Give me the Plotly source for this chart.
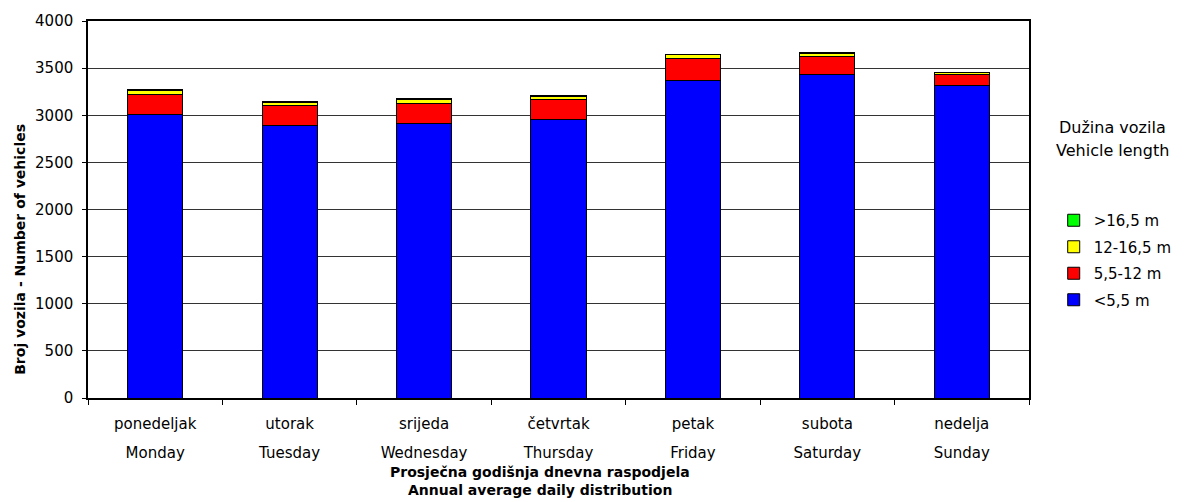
import plotly.graph_objects as go

days_local = ["ponedeljak", "utorak", "srijeda", "četvrtak", "petak", "subota", "nedelja"]
days_en = ["Monday", "Tuesday", "Wednesday", "Thursday", "Friday", "Saturday", "Sunday"]
under_5_5 = [3010, 2895, 2915, 2950, 3370, 3435, 3315]
from_5_5_to_12 = [215, 205, 205, 220, 235, 190, 120]
from_12_to_16_5 = [40, 38, 50, 32, 35, 32, 15]
over_16_5 = [5, 4, 5, 4, 5, 5, 4]

series = [
    ("<5,5 m", under_5_5, "#0000FF", 4),
    ("5,5-12 m", from_5_5_to_12, "#FF0000", 3),
    ("12-16,5 m", from_12_to_16_5, "#FFFF00", 2),
    (">16,5 m", over_16_5, "#00FF00", 1),
]

FONT = "DejaVu Sans"
# page body has an 8px margin: the figure is sized / offset to compensate
OFF = 8
W, H = 1189 - OFF, 502 - OFF
PL, PR, PT, PB = 88, 1040, 21, 398  # plot area in reference pixels

def px(xr):
    return (xr - PL) / (PR - PL)

def py(yr):
    return (PB - yr) / (PB - PT)

fig = go.Figure()
for name, vals, col, rank in series:
    fig.add_trace(go.Bar(
        x=days_local, y=vals, name=name, legendgroup=name, legendrank=rank,
        marker=dict(color=col, line=dict(color="black", width=1)),
    ))
# invisible helper trace carrying the English day names on a second category axis
fig.add_trace(go.Scatter(
    x=days_en, y=under_5_5, xaxis="x2", mode="markers",
    marker=dict(opacity=0), showlegend=False, hoverinfo="skip",
))

fig.update_layout(
    barmode="stack",
    bargap=0.59,
    width=W, height=H,
    margin=dict(l=PL - OFF, r=W - (PR - OFF), t=PT - OFF, b=H - (PB - OFF)),
    plot_bgcolor="white", paper_bgcolor="white",
    font=dict(family=FONT, size=15, color="black"),
    showlegend=True,
    legend=dict(
        x=px(1065), y=py(204), xanchor="left", yanchor="top",
        traceorder="grouped", tracegroupgap=4,
        font=dict(family=FONT, size=15),
    ),
    xaxis=dict(
        automargin=False,
        showline=True, linecolor="black", linewidth=1.5, mirror=True,
        ticks="outside", tickson="boundaries", ticklen=5, tickcolor="black",
        tickfont=dict(family=FONT, size=15), ticklabelstandoff=11,
    ),
    xaxis2=dict(
        automargin=False, overlaying="x", anchor="y", side="bottom",
        type="category", range=[-0.5, len(days_en) - 0.5],
        showline=False, ticks="", showgrid=False, zeroline=False,
        tickfont=dict(family=FONT, size=15), ticklabelstandoff=44,
    ),
    yaxis=dict(
        automargin=False,
        range=[0, 4000], dtick=500,
        showline=True, linecolor="black", linewidth=1.5, mirror=True,
        ticks="outside", ticklen=4, tickcolor="black",
        showgrid=True, gridcolor="#333333", gridwidth=1,
        tickfont=dict(family=FONT, size=15), ticklabelstandoff=6,
    ),
    annotations=[
        dict(text="Dužina vozila", xref="paper", yref="paper",
             x=px(1124), y=py(127), xanchor="center", yanchor="middle",
             showarrow=False, font=dict(family=FONT, size=16)),
        dict(text="Vehicle length", xref="paper", yref="paper",
             x=px(1124), y=py(150), xanchor="center", yanchor="middle",
             showarrow=False, font=dict(family=FONT, size=16)),
        dict(text="<b>Broj vozila - Number of vehicles</b>", xref="paper", yref="paper",
             x=px(19), y=py(249), xanchor="center", yanchor="middle",
             textangle=-90, showarrow=False, font=dict(family=FONT, size=14)),
        dict(text="<b>Prosječna godišnja dnevna raspodjela</b>", xref="paper", yref="paper",
             x=px(545), y=py(472), xanchor="center", yanchor="middle",
             showarrow=False, font=dict(family=FONT, size=14)),
        dict(text="<b>Annual average daily distribution</b>", xref="paper", yref="paper",
             x=px(545), y=py(490), xanchor="center", yanchor="middle",
             showarrow=False, font=dict(family=FONT, size=14)),
    ],
)

fig.write_html("out.html")
